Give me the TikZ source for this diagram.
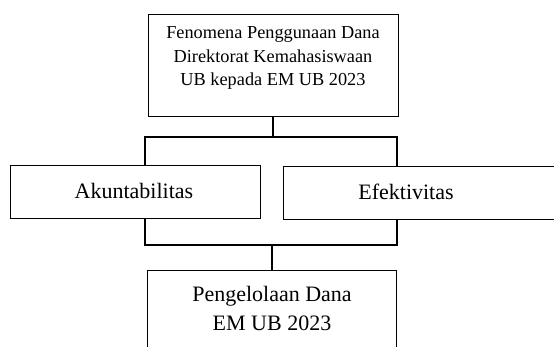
\documentclass[tikz,border=0pt]{standalone}
\usepackage{fontspec}
\setmainfont{Liberation Serif}
\usepackage{tikz}
\usetikzlibrary{positioning}

\tikzset{
  box/.style={draw, line width=0.8pt, rectangle, inner sep=0pt},
  conn/.style={line width=1.6pt, line join=miter},
  small/.style={align=center, font=\fontsize{18.3}{23.5}\selectfont},
  big/.style={align=center, font=\fontsize{22}{29}\selectfont}
}

\begin{document}
\begin{tikzpicture}[x=1pt, y=1pt]
\useasboundingbox (0,0) rectangle (554,-346);
\clip (0,0) rectangle (554,-346);

% Top box
\node[box, minimum width=250, minimum height=102] (fen) at (273,-65) {};
\node[small] (fentext) at (273,-58) {Fenomena Penggunaan Dana\\Direktorat Kemahasiswaan\\UB kepada EM UB 2023};

% Middle boxes
\node[box, minimum width=250, minimum height=53] (akun) at (135,-191.5) {};
\node[big] (akuntext) at (134,-190.5) {Akuntabilitas};
\node[box, minimum width=280, minimum height=53] (efek) at (423,-193.3) {};
\node[big] (efektext) at (406,-191.5) {Efektivitas};

% Bottom box
\node[box, minimum width=249, minimum height=78] (peng) at (272.2,-309) {};
\node[big] (pengtext) at (272,-308.5) {Pengelolaan Dana\\EM UB 2023};

% Connectors
\coordinate (tl) at (145,-136.7);
\coordinate (tr) at (396.7,-136.7);
\coordinate (bl) at (145,-245);
\coordinate (br) at (396.7,-245);
\draw[conn] (fen.south) -- (fen.south |- tl);
\draw[conn] (akun.north -| tl) -- (tl) -- (tr) -- (efek.north -| tr);
\draw[conn] (akun.south -| bl) -- (bl) -- (br) -- (efek.south -| br);
\draw[conn] (peng.north) -- (peng.north |- bl);
\end{tikzpicture}
\end{document}
